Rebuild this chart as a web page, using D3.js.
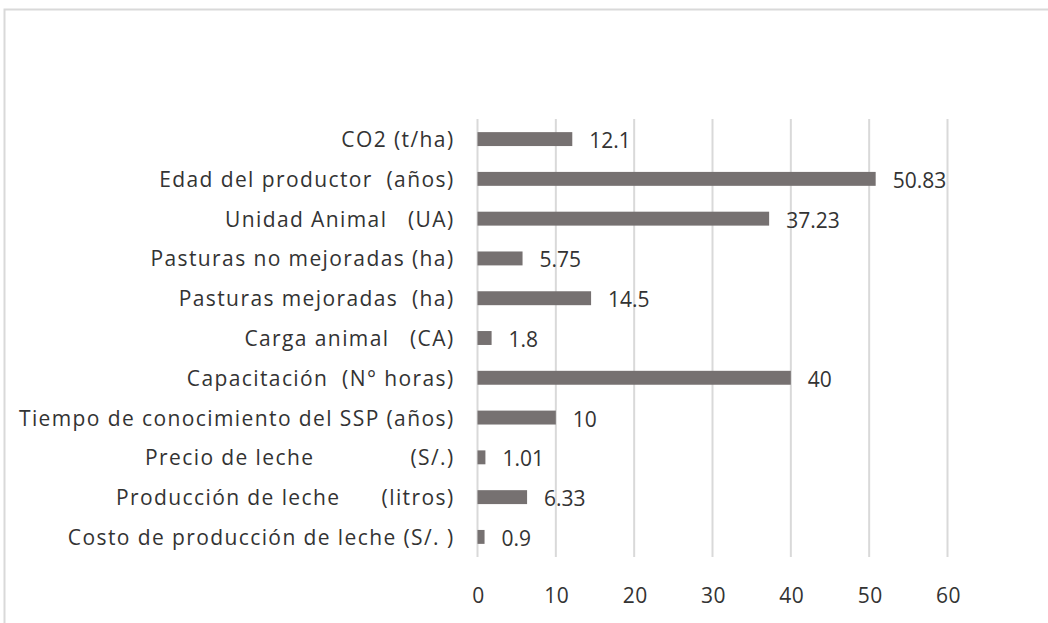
<!DOCTYPE html>
<html>
<head>
<meta charset="utf-8">
<script src="https://cdn.jsdelivr.net/npm/d3@7"></script>
<style>
  body { margin: 0; background: #fff; }
  text { font-family: "Open Sans", sans-serif; fill: #333; }
</style>
</head>
<body>
<div id="chart"></div>
<script>
// categories, top to bottom
var categories = [
  "CO2 (t/ha)",
  "Edad del productor  (años)",
  "Unidad Animal   (UA)",
  "Pasturas no mejoradas (ha)",
  "Pasturas mejoradas  (ha)",
  "Carga animal   (CA)",
  "Capacitación  (N° horas)",
  "Tiempo de conocimiento del SSP (años)",
  "Precio de leche              (S/.)",
  "Producción de leche      (litros)",
  "Costo de producción de leche (S/. )"
];
var values = [12.1, 50.83, 37.23, 5.75, 14.5, 1.8, 40, 10, 1.01, 6.33, 0.9];
var valueLabels = ["12.1", "50.83", "37.23", "5.75", "14.5", "1.8", "40", "10", "1.01", "6.33", "0.9"];
var xTicks = [0, 10, 20, 30, 40, 50, 60];

var W = 1048, H = 623;
var margin = {top: 119, right: 100, bottom: 66, left: 477.5};
var width = W - margin.left - margin.right,
    height = H - margin.top - margin.bottom;

var svg = d3.select("#chart").append("svg")
  .attr("width", W)
  .attr("height", H);

// outer frame
svg.append("rect")
  .attr("x", 4.5).attr("y", 9.5)
  .attr("width", W + 10).attr("height", H + 10)
  .attr("fill", "none")
  .attr("stroke", "#d9d9d9")
  .attr("stroke-width", 2);

var g = svg.append("g")
  .attr("transform", "translate(" + margin.left + "," + margin.top + ")");

var x = d3.scaleLinear().domain([0, 60]).range([0, 470]);
var y = d3.scaleBand().domain(categories).range([0, height]).paddingInner(0.65).paddingOuter(0.33);

// gridlines
g.append("g").selectAll("line")
  .data(xTicks)
  .join("line")
    .attr("x1", d => x(d)).attr("x2", d => x(d))
    .attr("y1", 0).attr("y2", height)
    .attr("stroke", "#d9d9d9")
    .attr("stroke-width", 2);

// x tick labels
g.append("g").selectAll("text")
  .data(xTicks)
  .join("text")
    .attr("x", d => x(d) + 1)
    .attr("y", height + 40)
    .attr("text-anchor", "middle")
    .attr("dominant-baseline", "middle")
    .style("font-size", "21px")
    .style("letter-spacing", "0.5px")
    .text(d => d);

// category labels
g.append("g").selectAll("text")
  .data(categories)
  .join("text")
    .attr("x", -23)
    .attr("y", d => y(d) + y.bandwidth() / 2)
    .attr("text-anchor", "end")
    .attr("dominant-baseline", "central")
    .style("font-size", "21px")
    .style("letter-spacing", "1.4px")
    .style("white-space", "pre")
    .text(d => d);

// bars
g.append("g").selectAll("rect")
  .data(values)
  .join("rect")
    .attr("x", x(0))
    .attr("y", (d, i) => y(categories[i]))
    .attr("width", d => x(d) - x(0))
    .attr("height", y.bandwidth())
    .attr("fill", "#767171");

// value labels
g.append("g").selectAll("text")
  .data(values)
  .join("text")
    .attr("x", d => x(d) + 17)
    .attr("y", (d, i) => y(categories[i]) + y.bandwidth() / 2 + 1)
    .attr("dominant-baseline", "central")
    .style("font-size", "21px")
    .text((d, i) => valueLabels[i]);
</script>
</body>
</html>
